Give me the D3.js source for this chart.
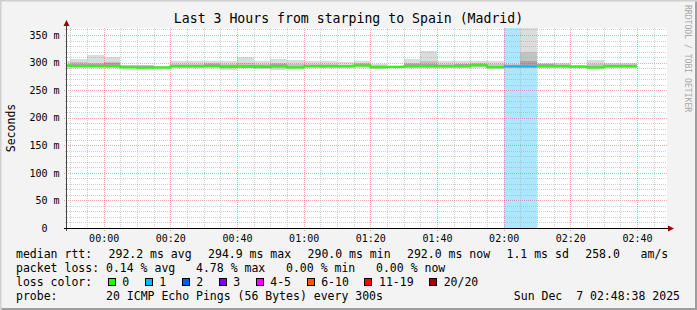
<!DOCTYPE html>
<html>
<head>
<meta charset="utf-8">
<script src="https://cdn.jsdelivr.net/npm/d3@7"></script>
<style>
  body { margin: 0; background: #f3f3f3; }
  svg { display: block; font-family: "DejaVu Sans Mono", monospace; }
  text { white-space: pre; }
</style>
</head>
<body>
<svg id="chart" width="697" height="310"></svg>
<script>
// 5 minute steps (label = step start)
const steps = ["23:45","23:50","23:55","00:00","00:05","00:10","00:15","00:20","00:25","00:30",
  "00:35","00:40","00:45","00:50","00:55","01:00","01:05","01:10","01:15","01:20",
  "01:25","01:30","01:35","01:40","01:45","01:50","01:55","02:00","02:05","02:10",
  "02:15","02:20","02:25","02:30","02:35"];

// median rtt per step (ms)
const medianRtt = [294.5,293.5,294,293.5,291,290.5,291,293,293,294,
  292,292.5,292,293,291,293.5,293,293,294.5,291.5,
  292,293,293,293,293,295,291.5,293,293,293,
  293,292.5,291,293,293];

// smoke: outer band (min..max), middle band, inner band (ms)
const smokeMin = [289,290,290,289.5,289.5,288,289,290,290.5,290,
  286.5,290,288.5,286.5,288.5,290,290.5,290.5,290,289,
  289.5,290,290,290,290,290,289,288.5,288.5,289.5,
  290,291,289,290,290];
const smokeMax = [302,306.5,313,309.5,296,296,294.5,302,302,303.5,
  303,309.5,303,306,304,302.5,302,301,303.5,297.5,
  295,306,320.5,302,303,303,302,300,372,300,
  300,296.5,304.5,299.5,299.5];
const midLo = [292,291.5,292,292,290,289.5,290,291.5,291.5,292,
  289.5,291,290,291,289.5,292,292,292,292,290,
  290,291.5,291.5,291.5,291.5,292.5,290,290.5,290,291.5,
  291.5,291,289.5,291.5,291.5];
const midHi = [298,301,300,301,295,295.5,293,298,297,299,
  297,299,297,299,297,298,297,296.5,299,295,
  293.5,300,302,297,298,299,297,297.5,318.5,298,
  297.5,295,297,297.5,297.5];
const innerLo = [292.5,292,292.5,293,290,289.5,290,292,292,293,
  290.5,291.5,290.5,291.5,290,292.5,292,292,293,290.5,
  290,292,292,292,292,293.5,290.5,291.5,291.5,292,
  292,291.5,290,292,292];
const innerHi = [296,298,297,299,293.5,294.5,292.5,296,295.5,297.5,
  295,296,295,297,293,296,295,295,297,294,
  292.5,298,297,295.5,297,298,293.5,295.5,302,297,
  296.5,294,294,296,296];

// lost pings out of 20 per step
const lossCount = [0,0,0,0,0,0,0,0,0,0,
  0,0,0,0,0,0,0,0,0,0,
  0,0,0,0,0,0,0,1,1,0,
  0,0,0,0,0];

const lossLabels = ["0","1","2","3","4-5","6-10","11-19","20/20"];
const lossColors = ["#26ff00","#00b8ff","#0059ff","#7e00ff","#ff00ff","#ff5500","#ff0000","#a10000"];

const yTicks = [0, 50, 100, 150, 200, 250, 300, 350];

const rttStats = ["292.2 ms avg","294.9 ms max","290.0 ms min","292.0 ms now","1.1 ms sd","258.0   am/s"];
const lossStats = ["0.14 % avg","4.78 % max","0.00 % min","0.00 % now"];
const probeText = "20 ICMP Echo Pings (56 Bytes) every 300s";
const stampText = "Sun Dec  7 02:48:38 2025";
const titleText = "Last 3 Hours from starping to Spain (Madrid)";

const W = 697, H = 310;
const plotL = 67, plotR = 667, plotT = 28, plotB = 228;

const svg = d3.select("#chart");

const parseStep = s => {
    const [h, m] = s.split(":").map(Number);
    return new Date(2025, 11, h >= 12 ? 6 : 7, h, m);
};
const lossBucket = n => n <= 3 ? n : n <= 5 ? 4 : n <= 10 ? 5 : n < 20 ? 6 : 7;

const bars = steps.map((s, i) => {
    const t0 = parseStep(s);
    return {
        t0: t0, t1: d3.timeMinute.offset(t0, 5), med: medianRtt[i], loss: lossCount[i],
        bands: [[smokeMin[i], smokeMax[i]], [midLo[i], midHi[i]], [innerLo[i], innerHi[i]]]
    };
});

const x = d3.scaleTime()
    .domain([new Date(2025, 11, 6, 23, 49), new Date(2025, 11, 7, 2, 49)])
    .range([plotL, plotR]);
const y = d3.scaleLinear().domain([0, 362.7]).range([plotB, plotT]);

// background + frame
svg.append("rect").attr("width", W).attr("height", H).attr("fill", "#f3f3f3");
svg.append("path").attr("d", `M0,${H} V0 H${W}`).attr("fill", "none")
    .attr("stroke", "#cfcfcf").attr("stroke-width", 3);
svg.append("path").attr("d", `M1.5,${H - 1} H${W - 1} V1.5`).attr("fill", "none")
    .attr("stroke", "#9e9e9e").attr("stroke-width", 2);

svg.append("rect").attr("x", plotL).attr("y", plotT)
    .attr("width", plotR - plotL).attr("height", plotB - plotT).attr("fill", "#fff");

svg.append("clipPath").attr("id", "plotClip").append("rect")
    .attr("x", plotL).attr("y", plotT).attr("width", plotR - plotL).attr("height", plotB - plotT);

const dataLayer = svg.append("g").attr("clip-path", "url(#plotClip)");

// loss background
dataLayer.selectAll("rect.lossbg")
    .data(bars.filter(d => d.loss > 0))
    .enter().append("rect")
    .attr("class", "lossbg")
    .attr("x", d => x(d.t0)).attr("width", d => x(d.t1) - x(d.t0))
    .attr("y", plotT).attr("height", plotB - plotT)
    .attr("fill", d => lossColors[lossBucket(d.loss)]).attr("fill-opacity", 0.33)
    .attr("shape-rendering", "crispEdges");

// smoke
const smokeShades = ["#dcdcdc", "#c3c3c3", "#a5a5a5"];
smokeShades.forEach((shade, k) => {
    dataLayer.selectAll("rect.smoke" + k)
        .data(bars)
        .enter().append("rect")
        .attr("class", "smoke" + k)
        .attr("x", d => x(d.t0)).attr("width", d => x(d.t1) - x(d.t0))
        .attr("y", d => y(d.bands[k][1]))
        .attr("height", d => y(d.bands[k][0]) - y(d.bands[k][1]))
        .attr("fill", shade)
        .attr("shape-rendering", "crispEdges");
});

// grid
const grid = svg.append("g").attr("shape-rendering", "crispEdges");
const minorColor = "rgba(170,170,170,0.55)";
const majorColor = "rgba(255,60,60,0.45)";
const px = v => Math.round(v) + 0.5;

const hMinor = d3.range(10, 363, 10).filter(v => v % 50 !== 0);
grid.selectAll("line.hminor").data(hMinor).enter().append("line")
    .attr("x1", plotL - 2).attr("x2", plotR)
    .attr("y1", d => px(y(d))).attr("y2", d => px(y(d)))
    .attr("stroke", minorColor).attr("stroke-dasharray", "1,1");
grid.selectAll("line.hmajor").data(yTicks.filter(v => v > 0)).enter().append("line")
    .attr("x1", plotL - 3).attr("x2", plotR)
    .attr("y1", d => px(y(d))).attr("y2", d => px(y(d)))
    .attr("stroke", majorColor).attr("stroke-dasharray", "1,1");

const fiveMin = d3.timeMinute.every(5).range(x.domain()[0], x.domain()[1]);
grid.selectAll("line.vminor").data(fiveMin.filter(t => t.getMinutes() % 20 !== 0)).enter().append("line")
    .attr("x1", d => px(x(d))).attr("x2", d => px(x(d)))
    .attr("y1", plotT).attr("y2", plotB + 2)
    .attr("stroke", minorColor).attr("stroke-dasharray", "1,1");
grid.selectAll("line.vmajor").data(fiveMin.filter(t => t.getMinutes() % 20 === 0)).enter().append("line")
    .attr("x1", d => px(x(d))).attr("x2", d => px(x(d)))
    .attr("y1", plotT).attr("y2", plotB + 3)
    .attr("stroke", majorColor).attr("stroke-dasharray", "1,1");

// median rtt, coloured by loss
const medPoints = bars.flatMap(d => [
    { t: d.t0, v: d.med, b: lossBucket(d.loss) },
    { t: d.t1, v: d.med, b: lossBucket(d.loss) }
]);
const medLayer = svg.append("g").attr("clip-path", "url(#plotClip)");
lossColors.forEach((c, b) => {
    if (!medPoints.some(p => p.b === b)) return;
    medLayer.append("path")
        .datum(medPoints)
        .attr("fill", "none")
        .attr("stroke", c)
        .attr("stroke-width", 2)
        .attr("d", d3.line().defined(p => p.b === b).x(p => x(p.t)).y(p => y(p.v)));
});

// axes lines and arrows
svg.append("line").attr("x1", 66.5).attr("x2", 66.5).attr("y1", plotB + 3).attr("y2", 24)
    .attr("stroke", "#444");
svg.append("line").attr("x1", plotL - 3).attr("x2", 669).attr("y1", 228.5).attr("y2", 228.5)
    .attr("stroke", "#000");
svg.append("path").attr("d", "M63.5,26 L69.5,26 L66.5,20 Z").attr("fill", "#990000");
svg.append("path").attr("d", "M668,225.5 L668,231.5 L674,228.5 Z").attr("fill", "#990000");

// tick labels
const yAxis = svg.append("g")
    .attr("transform", `translate(${plotL - 0.5},0)`)
    .call(d3.axisLeft(y).tickValues(yTicks).tickSize(0).tickPadding(7)
        .tickFormat(v => v === 0 ? "0  " : v + " m"));
yAxis.select(".domain").remove();
yAxis.selectAll("text").attr("font-family", "DejaVu Sans Mono").attr("font-size", 10)
    .attr("fill", "#000");

const xAxis = svg.append("g")
    .attr("transform", `translate(0,${plotB})`)
    .call(d3.axisBottom(x).ticks(d3.timeMinute.every(20)).tickSize(0).tickPadding(7)
        .tickFormat(d3.timeFormat("%H:%M")));
xAxis.select(".domain").remove();
xAxis.selectAll("text").attr("font-family", "DejaVu Sans Mono").attr("font-size", 10)
    .attr("fill", "#000");

// title, axis title, watermark
svg.append("text").attr("x", W / 2).attr("y", 23).attr("text-anchor", "middle")
    .attr("font-size", 13.2).attr("fill", "#000").text(titleText);
svg.append("text").attr("transform", "translate(15,128) rotate(-90)").attr("text-anchor", "middle")
    .attr("font-size", 11.5).attr("fill", "#000").text("Seconds");
svg.append("text").attr("transform", "translate(684.5,5) rotate(90)")
    .attr("font-size", 8.1).attr("fill", "#a8a8a8").text("RRDTOOL / TOBI OETIKER");

// legend
const legend = svg.append("g").attr("font-size", 11.5).attr("fill", "#000");
const legX = 16, legR = 668.3;
const rowY = [257.5, 271.5, 285.5, 299.5];

const probeW = legend.append("text").attr("x", -100).attr("y", -100).text("0000000000");
const cw = probeW.node().getComputedTextLength() / 10;
probeW.remove();
const valX = legX + 13 * cw;

// row 1: justified between left and right edge
const row1 = ["median rtt:"].concat(rttStats);
const r1 = legend.selectAll("text.r1").data(row1).enter().append("text")
    .attr("class", "r1").attr("y", rowY[0]).text(d => d);
const w1 = r1.nodes().map(n => n.getComputedTextLength());
const gap1 = (legR - legX - d3.sum(w1)) / (row1.length - 1);
let cx = legX;
r1.attr("x", (d, i) => { const v = cx; cx += w1[i] + gap1; return v; });

// row 2
legend.append("text").attr("x", legX).attr("y", rowY[1])
    .text("packet loss: " + lossStats.join("   "));

// row 3: loss colour swatches
legend.append("text").attr("x", legX).attr("y", rowY[2]).text("loss color:");
let sx = valX + 1.5;
lossLabels.forEach((lab, i) => {
    legend.append("rect").attr("x", Math.round(sx) + 0.5).attr("y", 278.5)
        .attr("width", 7).attr("height", 7)
        .attr("fill", lossColors[i]).attr("stroke", "#000").attr("shape-rendering", "crispEdges");
    const t = legend.append("text").attr("x", sx + 14.6).attr("y", rowY[2]).text(lab);
    sx += 14.6 + t.node().getComputedTextLength() + 15.5;
});

// row 4
legend.append("text").attr("x", legX).attr("y", rowY[3]).text("probe:");
legend.append("text").attr("x", valX).attr("y", rowY[3]).text(probeText);
legend.append("text").attr("x", 680).attr("y", rowY[3]).attr("text-anchor", "end").text(stampText);
</script>
</body>
</html>
